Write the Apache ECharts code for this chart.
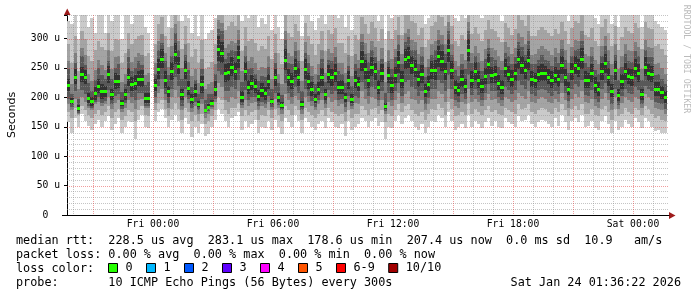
<!DOCTYPE html>
<html><head><meta charset="utf-8">
<script src="https://cdn.jsdelivr.net/npm/echarts@6/dist/echarts.min.js"></script>
<style>html,body{margin:0;padding:0;background:#fff}#c{width:697px;height:297px}</style>
</head><body><div id="c"></div>
<script>
// time grid: first column starts 4.3 h before Fri 00:00, 10-minute columns
const startHour = -4.3;
const stepHour = 1 / 6;
const endHour = 25.8;

const median = [221,194,235,182,239,234,199,193,207,220,
 210,210,239,205,228,227,191,205,235,222,
 225,232,232,199,199,null,221,249,266,230,
 210,245,274,254,205,247,216,197,211,188,
 222,179,184,191,215,283,276,241,243,252,
 245,269,201,244,218,225,220,203,212,207,
 227,193,234,200,187,264,234,228,250,235,
 188,249,228,214,198,215,235,205,240,234,
 241,217,218,200,229,198,230,222,261,248,
 230,252,244,218,241,186,238,221,238,260,
 230,265,268,255,249,231,240,211,223,247,
 247,270,261,244,280,247,218,213,232,220,
 281,230,245,230,220,236,257,238,239,225,
 218,250,240,232,242,265,255,247,264,231,
 229,240,242,241,235,230,238,232,255,234,
 215,244,255,250,266,230,229,241,221,214,
 244,258,235,211,246,204,227,244,236,234,
 250,241,205,252,242,240,214,214,209,200];

const p1 = [158,140,165,150,172,160,152,145,155,162,
 150,160,168,145,155,165,140,150,160,158,
 130,162,170,150,148,null,160,175,180,165,
 150,162,170,160,140,165,155,132,150,140,
 155,135,138,150,162,180,172,160,150,165,
 168,175,145,160,150,155,162,140,150,148,
 160,145,162,150,138,165,158,150,170,160,
 140,165,158,150,145,155,160,148,165,158,
 150,148,155,135,160,145,150,155,165,160,
 150,160,165,152,158,130,150,148,160,170,
 155,165,170,160,150,145,155,140,150,160,
 158,170,165,150,175,160,145,150,155,148,
 170,150,160,155,148,158,165,152,160,150,
 148,165,158,155,150,168,160,162,170,155,
 150,158,162,160,155,150,165,152,170,158,
 145,160,165,158,170,150,152,160,148,145,
 160,168,155,140,160,145,150,162,155,150,
 165,158,148,165,160,150,142,145,140,140];

const p2 = [175,165,182,170,185,178,170,165,172,178,
 170,175,185,165,175,180,162,168,178,175,
 160,178,185,170,168,null,178,190,195,180,
 168,180,190,180,162,182,175,160,170,160,
 172,155,160,168,178,200,195,178,172,182,
 182,190,168,178,170,175,178,162,170,168,
 178,165,180,170,160,185,178,170,185,178,
 162,182,175,170,165,172,178,168,182,175,
 172,168,172,160,178,165,172,172,185,178,
 170,180,182,172,178,158,172,168,178,188,
 175,185,188,178,172,168,175,162,172,180,
 178,188,182,170,192,180,168,170,175,170,
 190,172,180,175,170,178,185,175,178,172,
 170,182,178,175,172,188,180,182,188,175,
 172,178,182,180,175,172,182,175,188,178,
 168,180,185,178,188,172,172,180,170,168,
 180,185,175,162,180,168,172,182,175,172,
 182,178,170,185,180,172,165,168,162,160];

const p3 = [188,178,198,172,200,192,182,178,188,192,
 185,188,200,180,190,195,175,182,195,190,
 180,195,198,182,182,null,190,208,215,195,
 182,200,212,200,178,200,190,175,185,172,
 188,165,172,180,192,225,218,195,192,200,
 198,210,182,195,185,190,192,178,185,182,
 192,178,198,182,172,205,195,188,202,195,
 172,200,192,185,178,188,195,182,200,192,
 195,185,188,175,192,180,190,188,210,198,
 188,200,198,185,195,172,192,185,195,208,
 190,205,210,198,195,188,195,178,188,198,
 198,210,205,192,215,198,185,182,192,188,
 215,192,198,192,185,195,205,195,198,190,
 185,200,198,192,195,208,202,198,210,192,
 190,198,200,198,192,190,198,192,208,195,
 182,198,205,200,210,192,190,198,185,182,
 198,208,195,178,200,180,190,200,195,192,
 200,198,182,205,200,195,182,180,178,172];

const p4 = [198,184,210,174,212,205,186,182,192,200,
 190,194,212,188,202,205,181,190,208,200,
 196,208,208,186,186,null,200,220,232,205,
 191,215,235,220,186,215,197,182,192,178,
 198,174,176,184,198,245,238,210,210,218,
 215,230,187,212,196,200,200,186,192,189,
 203,183,208,187,178,225,208,200,218,208,
 178,215,203,193,184,196,208,189,212,206,
 210,195,197,184,203,185,203,199,226,215,
 202,218,214,195,210,177,208,196,210,225,
 203,226,230,218,214,203,210,189,199,215,
 214,230,225,211,238,215,195,192,205,198,
 238,204,214,204,196,208,222,210,211,201,
 196,217,212,205,212,228,221,215,228,205,
 203,212,214,213,207,203,211,205,224,207,
 193,214,222,217,229,204,203,212,197,192,
 214,225,207,189,215,187,202,215,208,206,
 217,212,188,220,214,210,192,191,188,181];

const p5 = [210,189,222,177,226,222,190,186,196,208,
 198,200,224,195,214,216,186,196,220,210,
 212,220,218,190,190,null,210,232,250,216,
 200,230,256,240,195,232,204,189,200,183,
 208,177,180,187,202,262,258,226,228,236,
 230,250,192,228,206,212,208,194,200,196,
 214,188,220,192,182,246,220,214,234,220,
 183,232,214,202,190,204,220,196,225,220,
 226,206,206,192,214,190,216,210,244,232,
 216,236,230,206,226,181,224,208,224,242,
 216,248,250,240,234,218,225,200,210,232,
 230,252,244,230,260,232,206,202,218,208,
 262,216,230,216,208,222,240,224,224,212,
 206,234,226,218,228,248,240,232,246,218,
 216,226,228,228,222,216,224,218,240,220,
 204,230,240,234,248,216,216,226,208,202,
 230,242,220,200,230,194,214,230,222,220,
 234,226,195,236,228,226,202,202,198,190];

const p6 = [232,199,248,187,252,246,208,200,218,232,
 222,220,254,215,242,238,196,214,250,234,
 238,244,246,208,208,null,232,266,282,244,
 220,260,292,268,215,262,228,205,222,193,
 236,181,188,195,228,304,294,256,258,268,
 260,288,210,260,230,238,232,212,224,218,
 240,198,248,208,192,282,248,242,266,250,
 193,266,242,226,206,226,250,214,255,248,
 256,228,230,208,244,206,244,234,278,264,
 244,268,258,230,256,191,252,234,252,278,
 244,282,286,270,264,244,255,222,236,262,
 264,288,278,258,300,262,230,224,246,232,
 300,244,260,244,232,250,274,252,254,238,
 230,266,254,246,256,282,270,262,282,244,
 242,254,256,254,248,244,252,246,270,248,
 226,258,270,266,284,244,242,256,234,226,
 258,274,250,222,262,214,240,258,250,248,
 266,256,215,268,256,254,226,226,220,210];

const p7 = [248,206,259,197,270,255,224,211,229,250,
 238,231,262,232,250,256,209,222,268,244,
 250,262,255,221,226,null,240,281,292,262,
 238,270,310,280,232,272,246,218,230,206,
 248,195,205,206,240,316,312,266,275,280,
 278,298,226,270,248,250,240,228,236,234,
 252,215,258,224,204,298,258,256,278,262,
 210,276,258,236,222,238,266,226,264,262,
 268,244,240,224,254,220,256,250,294,274,
 260,280,268,246,266,208,262,248,268,290,
 256,294,302,280,280,256,270,234,252,272,
 280,298,290,274,312,272,246,236,256,248,
 312,258,270,260,244,266,284,268,264,252,
 246,276,270,256,268,294,286,272,296,256,
 256,264,272,264,262,254,268,258,282,264,
 242,270,280,282,296,258,252,270,246,240,
 270,288,262,238,272,230,252,274,262,260,
 278,270,230,280,268,268,238,240,232,222];

const p8 = [262,222,275,214,284,272,240,228,246,264,
 255,246,280,248,268,270,226,240,282,260,
 268,276,272,238,242,null,258,296,308,276,
 252,288,324,296,250,290,260,236,248,224,
 266,214,222,226,256,332,326,284,290,296,
 292,314,244,288,262,268,258,246,252,250,
 270,232,276,240,222,312,276,270,294,280,
 228,294,272,254,240,256,280,242,282,276,
 286,258,258,242,272,236,274,264,308,292,
 276,296,286,262,284,226,280,266,282,306,
 274,310,316,298,294,274,286,252,266,290,
 296,314,306,290,328,290,262,254,274,264,
 328,276,288,276,262,282,300,284,280,270,
 262,294,286,274,284,310,302,290,312,272,
 274,282,288,282,278,272,284,276,298,280,
 258,286,298,296,312,274,270,286,264,256,
 288,304,280,256,290,248,270,290,280,278,
 294,286,248,298,286,284,256,258,250,240];

const p9 = [290,258,305,245,312,300,270,262,280,295,
 285,280,310,278,300,298,258,275,310,290,
 300,305,306,270,275,null,290,325,336,305,
 285,318,346,330,282,322,292,268,282,258,
 298,248,252,260,290,352,348,315,322,328,
 322,340,278,320,295,300,292,278,288,282,
 305,265,308,275,256,340,310,302,325,312,
 262,326,305,290,272,290,312,278,315,308,
 318,292,292,276,305,270,306,298,336,325,
 308,328,318,295,316,260,312,300,314,336,
 306,340,346,330,326,306,318,285,298,322,
 328,344,336,322,355,322,296,288,306,298,
 356,308,320,308,296,314,332,316,312,302,
 294,326,318,306,316,340,332,322,342,304,
 305,314,320,314,310,304,316,308,328,312,
 290,318,330,326,342,306,302,318,296,288,
 320,334,310,288,322,280,302,320,312,310,
 326,318,282,328,318,316,288,290,282,272];

const p10 = [330,325,360,300,370,340,320,335,310,350,
 340,310,380,330,345,360,300,345,350,325,
 350,340,375,320,310,null,340,380,390,345,
 320,370,400,375,330,365,335,310,340,305,
 345,300,310,315,335,400,390,360,370,375,
 365,390,330,360,335,345,340,320,335,325,
 350,315,355,320,300,380,345,350,370,355,
 305,370,345,330,315,335,350,325,360,345,
 360,335,340,320,350,315,345,340,380,365,
 345,375,360,330,355,300,350,335,350,380,
 340,385,390,370,360,345,355,325,335,365,
 365,390,375,355,400,360,335,330,350,335,
 395,345,360,345,335,350,375,350,355,340,
 330,365,355,345,360,385,370,360,385,345,
 340,355,360,355,345,340,350,345,370,345,
 330,360,370,365,385,345,340,355,335,325,
 355,375,350,325,365,320,340,360,350,345,
 365,355,320,370,355,355,330,325,320,315];

const xTickValues = [0, 6, 12, 18, 24];
const xTickLabels = ['Fri 00:00', 'Fri 06:00', 'Fri 12:00', 'Fri 18:00', 'Sat 00:00'];
const yTickValues = [0, 50, 100, 150, 200, 250, 300];
const yTickLabels = ['0  ', '50 u', '100 u', '150 u', '200 u', '250 u', '300 u'];
const lossNames = ['0', '1', '2', '3', '4', '5', '6-9', '10/10'];
const lossColors = ['#26ff00', '#00b8ff', '#0059ff', '#5e00ff', '#ff00ff', '#ff5500', '#ff0000', '#a10000'];
const smokeColors = ['#cacaca', '#a4a4a4', '#7e7e7e', '#585858', '#323232'];

const legendLines = [
  'median rtt:  228.5 us avg  283.1 us max  178.6 us min  207.4 us now  0.0 ms sd  10.9   am/s',
  'packet loss: 0.00 % avg  0.00 % max  0.00 % min  0.00 % now',
  'loss color:',
  'probe:       10 ICMP Echo Pings (56 Bytes) every 300s'
];
const stampText = 'Sat Jan 24 01:36:22 2026';
const watermark = 'RRDTOOL / TOBI OETIKER';

const MONO = 'DejaVu Sans Mono';
const GRID_MINOR = 'rgba(150,150,150,0.55)';
const GRID_MAJOR = 'rgba(225,60,60,0.5)';

const pings = [p1, p2, p3, p4, p5, p6, p7, p8, p9, p10];
const smokeData = [];
const medianData = [];
for (let i = 0; i < median.length; i++) {
  if (median[i] == null) continue;
  const x = startHour + i * stepHour;
  smokeData.push([x].concat(pings.map(function (p) { return p[i]; })));
  medianData.push([x, median[i]]);
}
const hGridData = [];
for (let v = 10; v <= 340; v += 10) hGridData.push([startHour, v]);
const vGridData = [];
for (let h = -4; h <= 25; h++) vGridData.push([h, 0]);

function colPx(api, x) {
  const a = Math.round(api.coord([x, 0])[0]);
  const b = Math.round(api.coord([x + stepHour, 0])[0]);
  return [a, b - a];
}
function renderSmoke(params, api) {
  const x = api.value(0);
  const c = colPx(api, x);
  const ch = [];
  for (let b = 0; b < 5; b++) {
    const lo = Math.round(api.coord([x, api.value(1 + b)])[1]);
    const hi = Math.round(api.coord([x, api.value(10 - b)])[1]);
    ch.push({ type: 'rect', shape: { x: c[0], y: hi, width: c[1], height: lo - hi }, style: { fill: smokeColors[b] } });
  }
  return { type: 'group', children: ch };
}
function renderMedian(params, api) {
  const x = api.value(0);
  const c = colPx(api, x);
  const y = Math.round(api.coord([x, api.value(1)])[1]);
  return { type: 'rect', shape: { x: c[0], y: y - 1, width: c[1], height: 3 }, style: { fill: lossColors[0] } };
}
function renderHGrid(params, api) {
  const v = api.value(1);
  const cs = params.coordSys;
  const y = Math.round(api.coord([startHour, v])[1]) + 0.5;
  return { type: 'line', shape: { x1: cs.x, y1: y, x2: cs.x + cs.width, y2: y },
    style: { stroke: v % 50 === 0 ? GRID_MAJOR : GRID_MINOR, lineWidth: 1, lineDash: [1, 1] } };
}
function renderVGrid(params, api) {
  const h = api.value(0);
  const cs = params.coordSys;
  const x = Math.round(api.coord([h, 0])[0]) + 0.5;
  return { type: 'line', shape: { x1: x, y1: cs.y, x2: x, y2: cs.y + cs.height },
    style: { stroke: h % 3 === 0 ? GRID_MAJOR : GRID_MINOR, lineWidth: 1, lineDash: [1, 1] } };
}

const series = [
  { type: 'custom', name: 'smoke', renderItem: renderSmoke, data: smokeData, clip: true, z: 2, silent: true },
  { type: 'custom', name: 'hgrid', renderItem: renderHGrid, data: hGridData, clip: true, z: 3, silent: true },
  { type: 'custom', name: 'vgrid', renderItem: renderVGrid, data: vGridData, clip: true, z: 3, silent: true },
  { type: 'custom', name: lossNames[0], renderItem: renderMedian, data: medianData, clip: true, z: 4, silent: true,
    itemStyle: { color: lossColors[0] } }
];
for (let k = 1; k < lossNames.length; k++) {
  series.push({ type: 'custom', name: lossNames[k], renderItem: function () { return null; }, data: [],
    itemStyle: { color: lossColors[k] } });
}

const textStyleMono = { font: '11.8px "' + MONO + '"', fill: '#000', verticalAlign: 'middle' };
const lineY = [241, 255, 269, 283];
const graphics = legendLines.map(function (t, i) {
  return { type: 'text', x: 16, y: lineY[i], style: Object.assign({ text: t }, textStyleMono) };
});
graphics.push({ type: 'text', x: 681, y: 283, style: Object.assign({ text: stampText, align: 'right' }, textStyleMono) });
graphics.push({ type: 'text', x: 686, y: 59, rotation: -Math.PI / 2,
  style: { text: watermark, font: '8.2px "' + MONO + '"', fill: '#bbbbbb', align: 'center', verticalAlign: 'middle' } });
graphics.push({ type: 'polygon', shape: { points: [[64, 15], [70.5, 15], [67.25, 8.5]] }, style: { fill: '#9e1b1b' } });
graphics.push({ type: 'polygon', shape: { points: [[669, 212], [669, 219], [675.5, 215.5]] }, style: { fill: '#9e1b1b' } });
graphics.push({ type: 'line', shape: { x1: 62, y1: 215.5, x2: 67, y2: 215.5 }, style: { stroke: '#000', lineWidth: 1 } });

const chart = echarts.init(document.getElementById('c'), null, { renderer: 'canvas' });
chart.setOption({
  animation: false,
  backgroundColor: '#ffffff',
  grid: { left: 67, right: 28, top: 15, bottom: 82, containLabel: false, outerBoundsMode: 'none' },
  xAxis: {
    type: 'value', min: startHour, max: endHour,
    axisLine: { show: true, onZero: false, lineStyle: { color: '#000', width: 1 } },
    axisTick: { show: false },
    splitLine: { show: false },
    axisLabel: {
      customValues: xTickValues,
      formatter: function (v) { const k = xTickValues.indexOf(Math.round(v)); return k >= 0 ? xTickLabels[k] : ''; },
      fontFamily: MONO, fontSize: 9.7, color: '#000', margin: 4
    }
  },
  yAxis: {
    type: 'value', min: 0, max: 340, interval: 50,
    name: 'Seconds', nameLocation: 'middle', nameGap: 49, nameRotate: 90,
    nameTextStyle: { fontFamily: 'DejaVu Sans', fontSize: 11, color: '#000' },
    axisLine: { show: true, onZero: false, lineStyle: { color: '#000', width: 1 } },
    axisTick: { show: true, length: 3, lineStyle: { color: '#000' } },
    splitLine: { show: false },
    axisLabel: {
      formatter: function (v) { const k = yTickValues.indexOf(v); return k >= 0 ? yTickLabels[k] : ''; },
      fontFamily: MONO, fontSize: 9.7, color: '#000', margin: 7
    }
  },
  legend: {
    data: lossNames, left: 108, top: 262, padding: 0, orient: 'horizontal',
    icon: 'rect', itemWidth: 9, itemHeight: 9, itemGap: 13.4, selectedMode: false,
    itemStyle: { borderColor: '#000', borderWidth: 1 },
    textStyle: { fontFamily: MONO, fontSize: 11.8, color: '#000', padding: [0, 0, 0, 3] }
  },
  tooltip: { show: false },
  graphic: graphics,
  series: series
});
</script>
</body></html>
